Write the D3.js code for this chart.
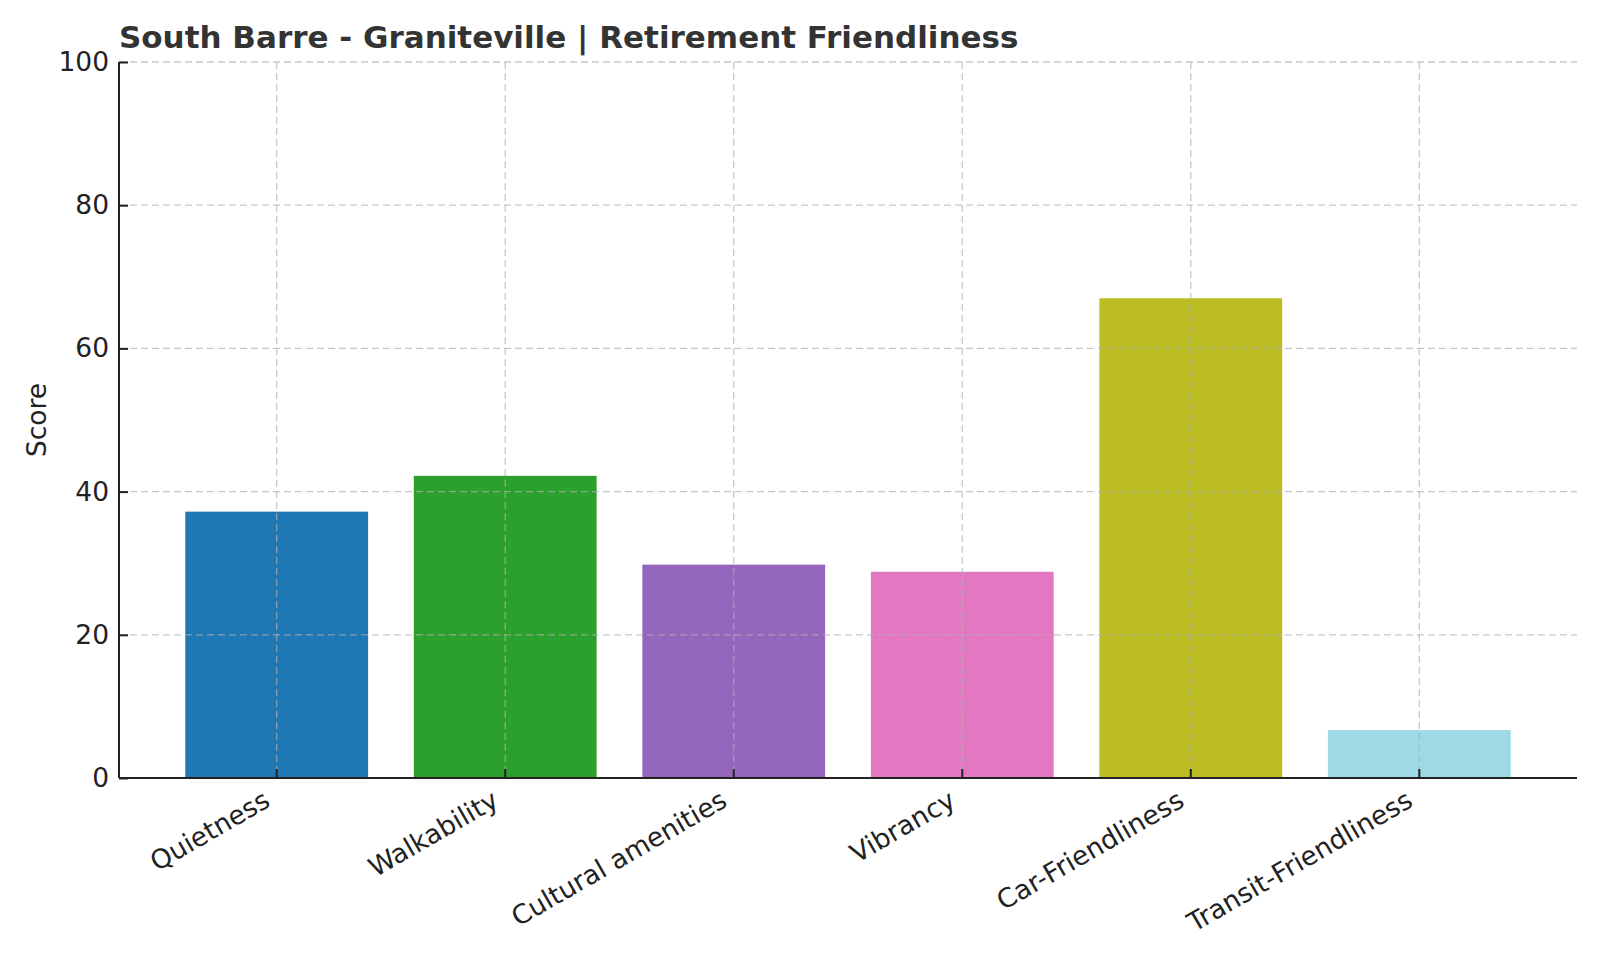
<!DOCTYPE html>
<html>
<head>
<meta charset="utf-8">
<script src="https://cdn.jsdelivr.net/npm/d3@7.9.0/dist/d3.min.js"></script>
<style>
  html, body { margin: 0; padding: 0; background: #fff; }
  svg { display: block; font-family: "DejaVu Sans", sans-serif; }
</style>
</head>
<body>
<svg id="chart" width="1600" height="960"></svg>
<script>
// Chart data
const categories = ['Quietness', 'Walkability', 'Cultural amenities', 'Vibrancy', 'Car-Friendliness', 'Transit-Friendliness'];
const scores = [37.2, 42.2, 29.8, 28.8, 67.0, 6.7];
const barColors = ['#1f77b4', '#2ca02c', '#9467bd', '#e377c2', '#bcbd22', '#9edae5'];
const yTicks = [0, 20, 40, 60, 80, 100];

const titleText = 'South Barre - Graniteville | Retirement Friendliness';
const yLabel = 'Score';

// Layout
const W = 1600, H = 960;
const margin = { top: 62, right: 23, bottom: 182, left: 119 };
const innerW = W - margin.left - margin.right;
const innerH = H - margin.top - margin.bottom;
const tickFont = 26.5;

const svg = d3.select('#chart');
const g = svg.append('g').attr('transform', `translate(${margin.left},${margin.top})`);

// Scales (matplotlib-like: 0.8 wide bars, 5% margins)
const x = d3.scaleBand()
  .domain(categories)
  .range([0, innerW])
  .paddingInner(0.2)
  .paddingOuter(0.29);

const y = d3.scaleLinear().domain([0, 100]).range([innerH, 0]);

// Bars
g.append('g').selectAll('rect')
  .data(categories)
  .join('rect')
  .attr('x', d => x(d))
  .attr('y', (d, i) => y(scores[i]))
  .attr('width', x.bandwidth())
  .attr('height', (d, i) => innerH - y(scores[i]))
  .attr('fill', (d, i) => barColors[i]);

// Grid (drawn over bars, light dashed)
const grid = g.append('g')
  .attr('stroke', '#b0b0b0')
  .attr('stroke-opacity', 0.7)
  .attr('stroke-width', 1.3)
  .attr('stroke-dasharray', '7,4');

grid.selectAll('line.h')
  .data(yTicks.filter(t => t > 0))
  .join('line')
  .attr('class', 'h')
  .attr('x1', 0).attr('x2', innerW)
  .attr('y1', d => y(d)).attr('y2', d => y(d));

grid.selectAll('line.v')
  .data(categories)
  .join('line')
  .attr('class', 'v')
  .attr('x1', d => x(d) + x.bandwidth() / 2)
  .attr('x2', d => x(d) + x.bandwidth() / 2)
  .attr('y1', 0).attr('y2', innerH);

// Y axis (ticks inward)
const yAxis = g.append('g')
  .call(d3.axisLeft(y).tickValues(yTicks).tickSize(-9).tickPadding(10));
yAxis.select('.domain').attr('stroke', '#222').attr('stroke-width', 2).attr('d', `M0,${innerH}V0`);
yAxis.selectAll('.tick line').attr('stroke', '#222').attr('stroke-width', 2);
yAxis.selectAll('.tick text')
  .attr('font-size', tickFont)
  .attr('fill', '#222')
  .attr('font-family', '"DejaVu Sans", sans-serif');

// X axis (ticks inward, labels rotated 30°)
const xAxis = g.append('g')
  .attr('transform', `translate(0,${innerH})`)
  .call(d3.axisBottom(x).tickSize(-9).tickPadding(0));
xAxis.select('.domain').attr('stroke', '#222').attr('stroke-width', 2).attr('d', `M0,0H${innerW}`);
xAxis.selectAll('.tick line').attr('stroke', '#222').attr('stroke-width', 2);
xAxis.selectAll('.tick text')
  .attr('font-size', tickFont)
  .attr('fill', '#222')
  .attr('font-family', '"DejaVu Sans", sans-serif')
  .attr('text-anchor', 'end')
  .attr('dy', '0.76em')
  .attr('y', 0)
  .attr('transform', 'translate(-15,10) rotate(-30)');

// Y label
svg.append('text')
  .attr('transform', `translate(46,${margin.top + innerH / 2}) rotate(-90)`)
  .attr('text-anchor', 'middle')
  .attr('font-size', tickFont)
  .attr('fill', '#222')
  .text(yLabel);

// Title
svg.append('text')
  .attr('x', margin.left)
  .attr('y', 48)
  .attr('font-size', 31)
  .attr('font-weight', 'bold')
  .attr('fill', '#333')
  .text(titleText);
</script>
</body>
</html>
